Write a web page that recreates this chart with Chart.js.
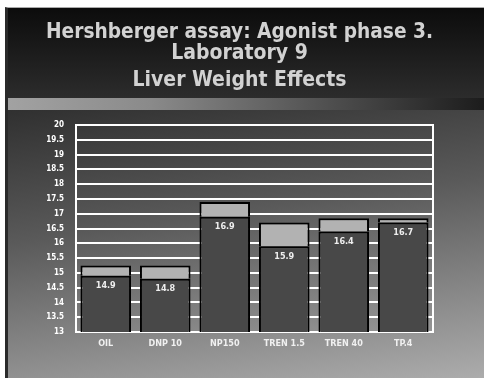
<!DOCTYPE html>
<html>
<head>
<meta charset="utf-8">
<script src="https://cdn.jsdelivr.net/npm/chart.js@4/dist/chart.umd.min.js"></script>
<style>
  html, body { margin: 0; padding: 0; background: #fff; }
  #wrap { position: relative; width: 484px; height: 379px; overflow: hidden; }
  .slide { position: absolute; left: 5px; top: 7px; right: 0; bottom: 1px;
           border-left: 3px solid #2a2a2a; border-top: 1px solid #aaa; }
  .head { position: absolute; left: 0; right: 0; top: 0; height: 90px;
          background: linear-gradient(to bottom, #0c0c0c, #2c2c2c); }
  .band { position: absolute; left: 0; right: 0; top: 90px; height: 12px;
          background: linear-gradient(to right, #a2a2a2, #8a8a8a 30%, #1c1c1c); }
  .body { position: absolute; left: 0; right: 0; top: 102px; bottom: 0;
          background: linear-gradient(172deg, #303030, #5a5a5a 40%, #acacac); }
  canvas { position: absolute; left: 0; top: 0; }
</style>
</head>
<body>
<div id="wrap">
  <div class="slide"><div class="head"></div><div class="band"></div><div class="body"></div></div>
  <canvas id="chart" width="484" height="379"></canvas>
</div>
<script>
const titleLines = ["Hershberger assay: Agonist phase 3.", "Laboratory 9"];
const subtitleLine = "Liver Weight Effects";
const groups = ["OIL", "DNP 10", "NP150", "TREN 1.5", "TREN 40", "TP.4"];
const means = [14.9, 14.8, 16.9, 15.9, 16.4, 16.7];
const spread = [0.35, 0.45, 0.5, 0.8, 0.45, 0.15];

const FONT = '"Liberation Sans Narrow", "DejaVu Sans Condensed", "Arial Narrow", "Liberation Sans", sans-serif';

// white frame line on the right side of the plot
const plotFrame = {
  id: "plotFrame",
  beforeDatasetsDraw(chart) {
    const { ctx, chartArea } = chart;
    ctx.save();
    ctx.strokeStyle = "#fff";
    ctx.lineWidth = 2;
    ctx.beginPath();
    ctx.moveTo(chartArea.right, chartArea.top - 1);
    ctx.lineTo(chartArea.right, chartArea.bottom + 1);
    ctx.stroke();
    ctx.restore();
  },
};

// value text just under the top of each dark bar
const valueLabels = {
  id: "valueLabels",
  afterDatasetsDraw(chart) {
    const { ctx } = chart;
    const meta = chart.getDatasetMeta(0);
    ctx.save();
    ctx.fillStyle = "#eeeeee";
    ctx.font = "bold 9px " + FONT;
    ctx.textAlign = "center";
    ctx.textBaseline = "middle";
    meta.data.forEach((bar, i) => {
      ctx.fillText(means[i].toFixed(1), bar.x, bar.y + 10);
    });
    ctx.restore();
  },
};

const headFont = { family: FONT, size: 21, weight: "bold", lineHeight: 1.0 };

new Chart(document.getElementById("chart"), {
  type: "bar",
  data: {
    labels: groups,
    datasets: [
      {
        label: "Mean",
        data: means,
        backgroundColor: "#484848",
        borderColor: "#000",
        borderWidth: 2,
      },
      {
        label: "Spread",
        data: spread,
        backgroundColor: "#b2b2b2",
        borderColor: "#000",
        borderWidth: 2,
      },
    ],
  },
  options: {
    responsive: false,
    animation: false,
    events: [],
    layout: { padding: { left: 46, right: 51, top: 0, bottom: 17 } },
    datasets: { bar: { barPercentage: 0.85, categoryPercentage: 1 } },
    plugins: {
      legend: { display: false },
      tooltip: { enabled: false },
      title: {
        display: true,
        text: titleLines,
        color: "#d2d2d2",
        font: headFont,
        padding: { top: 22.5, bottom: 0 },
      },
      subtitle: {
        display: true,
        text: subtitleLine,
        color: "#d2d2d2",
        font: headFont,
        padding: { top: 5.5, bottom: 34 },
      },
    },
    scales: {
      x: {
        stacked: true,
        grid: { display: false, drawTicks: false },
        border: { display: false },
        ticks: { color: "#f0f0f0", font: { family: FONT, size: 9, weight: "bold" }, padding: 6 },
        afterFit(scale) { scale.height = 30; },
      },
      y: {
        stacked: true,
        min: 13,
        max: 20,
        ticks: {
          stepSize: 0.5,
          color: "#fff",
          font: { family: FONT, size: 8, weight: "bold" },
          padding: 12,
          callback: (v) => String(v),
        },
        grid: { color: "#fff", lineWidth: 2, drawTicks: false },
        border: { color: "#fff", width: 2 },
        afterFit(scale) { scale.width = 30; },
      },
    },
  },
  plugins: [plotFrame, valueLabels],
});
</script>
</body>
</html>
